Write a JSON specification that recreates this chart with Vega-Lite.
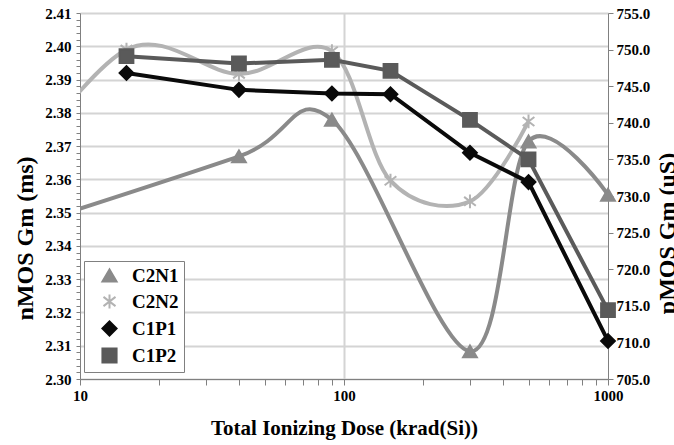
{
  "$schema": "https://vega.github.io/schema/vega-lite/v6.json",
  "width": 528,
  "height": 366,
  "autosize": {"type": "none"},
  "padding": {"left": 80, "top": 13, "right": 66, "bottom": 66},
  "background": "white",
  "config": {
    "view": {"stroke": null},
    "font": "Liberation Serif",
    "axis": {
      "labelFont": "Liberation Serif", "labelFontWeight": "bold", "labelFontSize": 15, "labelColor": "black",
      "titleFont": "Liberation Serif", "titleFontWeight": "bold", "titleFontSize": 24, "titleColor": "black",
      "domainColor": "#808080", "tickColor": "#808080", "gridColor": "#d4d4d4", "gridWidth": 2,
      "labelOverlap": false, "labelBound": false, "labelFlush": false
    }
  },
  "datasets": {
    "nmos": [
      {"series": "C2N1", "dose": 5, "gm": 2.3435},
      {"series": "C2N1", "dose": 40, "gm": 2.3669},
      {"series": "C2N1", "dose": 90, "gm": 2.3779},
      {"series": "C2N1", "dose": 300, "gm": 2.3083},
      {"series": "C2N1", "dose": 500, "gm": 2.3714},
      {"series": "C2N1", "dose": 1000, "gm": 2.3554},
      {"series": "C2N2", "dose": 5, "gm": 2.356},
      {"series": "C2N2", "dose": 15, "gm": 2.399},
      {"series": "C2N2", "dose": 40, "gm": 2.3917},
      {"series": "C2N2", "dose": 90, "gm": 2.3985},
      {"series": "C2N2", "dose": 150, "gm": 2.3596},
      {"series": "C2N2", "dose": 300, "gm": 2.3534},
      {"series": "C2N2", "dose": 500, "gm": 2.3774}
    ],
    "pmos": [
      {"series": "C1P1", "dose": 15, "gm": 746.8},
      {"series": "C1P1", "dose": 40, "gm": 744.5},
      {"series": "C1P1", "dose": 90, "gm": 744.0},
      {"series": "C1P1", "dose": 150, "gm": 743.9},
      {"series": "C1P1", "dose": 300, "gm": 735.9},
      {"series": "C1P1", "dose": 500, "gm": 731.9},
      {"series": "C1P1", "dose": 1000, "gm": 710.2},
      {"series": "C1P2", "dose": 15, "gm": 749.1},
      {"series": "C1P2", "dose": 40, "gm": 748.1},
      {"series": "C1P2", "dose": 90, "gm": 748.6},
      {"series": "C1P2", "dose": 150, "gm": 747.1},
      {"series": "C1P2", "dose": 300, "gm": 740.4},
      {"series": "C1P2", "dose": 500, "gm": 735.0},
      {"series": "C1P2", "dose": 1000, "gm": 714.4}
    ]
  },
  "layer": [
    {
      "data": {"name": "nmos"},
      "layer": [
        {
          "mark": {"type": "line", "interpolate": "cardinal", "clip": true, "strokeWidth": 4},
          "encoding": {
            "x": {
              "field": "dose", "type": "quantitative",
              "scale": {"type": "log", "domain": [10, 1000]},
              "axis": {
                "title": "Total Ionizing Dose (krad(Si))",
                "titleFontSize": 21,
                "values": [10, 20, 30, 40, 50, 60, 70, 80, 90, 100, 200, 300, 400, 500, 600, 700, 800, 900, 1000],
                "tickCount": 100,
                "labelExpr": "(datum.value == 10 || datum.value == 100 || datum.value == 1000) ? format(datum.value, 'd') : ''",
                "labelOverlap": false,
                "tickSize": 6,
                "grid": true,
                "gridOpacity": {"condition": {"test": "datum.value == 100", "value": 1}, "value": 0},
                "labelPadding": 3,
                "titlePadding": 14
              }
            },
            "y": {
              "field": "gm", "type": "quantitative",
              "scale": {"domain": [2.30, 2.41], "zero": false, "nice": false},
              "axis": {
                "title": "nMOS Gm (ms)",
                "values": [2.300, 2.302, 2.304, 2.306, 2.308, 2.310, 2.312, 2.314, 2.316, 2.318, 2.320, 2.322, 2.324, 2.326, 2.328, 2.330, 2.332, 2.334, 2.336, 2.338, 2.340, 2.342, 2.344, 2.346, 2.348, 2.350, 2.352, 2.354, 2.356, 2.358, 2.360, 2.362, 2.364, 2.366, 2.368, 2.370, 2.372, 2.374, 2.376, 2.378, 2.380, 2.382, 2.384, 2.386, 2.388, 2.390, 2.392, 2.394, 2.396, 2.398, 2.400, 2.402, 2.404, 2.406, 2.408, 2.410],
                "tickCount": 100,
                "labelExpr": "abs(datum.value * 100 - round(datum.value * 100)) < 0.05 ? format(datum.value, '.2f') : ''",
                "labelOverlap": false,
                "tickSize": 4,
                "grid": true,
                "gridOpacity": {"condition": {"test": "abs(datum.value * 100 - round(datum.value * 100)) < 0.05", "value": 1}, "value": 0},
                "labelPadding": 5,
                "titlePadding": 7,
                "titleY": 225
              }
            },
            "color": {
              "field": "series", "type": "nominal",
              "scale": {"domain": ["C2N1", "C2N2", "C1P1", "C1P2"], "range": ["#8a8a8a", "#b3b3b3", "#0a0a0a", "#5a5a5a"]},
              "legend": {
                "title": null,
                "orient": "none",
                "legendX": 4,
                "legendY": 248,
                "direction": "vertical",
                "fillColor": "white",
                "strokeColor": "#808080",
                "padding": 5,
                "labelFont": "Liberation Serif",
                "labelFontWeight": "bold",
                "labelFontSize": 19,
                "labelColor": "black",
                "symbolSize": 200,
                "symbolStrokeWidth": 2,
                "symbolOpacity": 1,
                "symbolOffset": 11,
                "rowPadding": 4,
                "labelOffset": 13
              }
            }
          }
        },
        {
          "transform": [{"filter": "datum.dose >= 10"}],
          "mark": {"type": "point", "filled": true, "size": 190, "strokeWidth": 2, "opacity": 1},
          "encoding": {
            "x": {"field": "dose", "type": "quantitative"},
            "y": {"field": "gm", "type": "quantitative"},
            "color": {"field": "series", "type": "nominal"},
            "stroke": {"field": "series", "type": "nominal", "scale": {"domain": ["C2N1", "C2N2", "C1P1", "C1P2"], "range": ["#8a8a8a", "#b3b3b3", "#0a0a0a", "#5a5a5a"]}, "legend": null},
            "shape": {"field": "series", "type": "nominal", "scale": {"domain": ["C2N1", "C2N2", "C1P1", "C1P2"], "range": ["triangle-up", "M0,-1V1M-0.85,-0.65L0.85,0.65M-0.85,0.65L0.85,-0.65", "diamond", "square"]}}
          }
        }
      ]
    },
    {
      "data": {"name": "pmos"},
      "layer": [
        {
          "mark": {"type": "line", "interpolate": "linear", "clip": true, "strokeWidth": 4},
          "encoding": {
            "x": {"field": "dose", "type": "quantitative"},
            "y": {
              "field": "gm", "type": "quantitative",
              "scale": {"domain": [705, 755], "zero": false, "nice": false},
              "axis": {
                "title": "pMOS Gm (uS)",
                "orient": "right",
                "values": [705, 710, 715, 720, 725, 730, 735, 740, 745, 750, 755],
                "tickCount": 100,
                "labelOverlap": false,
                "tickSize": 5,
                "grid": false,
                "labelPadding": 3,
                "titlePadding": 6,
                "titleAngle": 270,
                "titleBaseline": "top",
                "titleY": 220
              }
            },
            "color": {"field": "series", "type": "nominal"}
          }
        },
        {
          "mark": {"type": "point", "filled": true, "size": 190, "strokeWidth": 2, "opacity": 1},
          "encoding": {
            "x": {"field": "dose", "type": "quantitative"},
            "y": {"field": "gm", "type": "quantitative"},
            "color": {"field": "series", "type": "nominal"},
            "stroke": {"field": "series", "type": "nominal", "legend": null},
            "shape": {"field": "series", "type": "nominal"}
          }
        }
      ]
    }
  ],
  "resolve": {"scale": {"y": "independent"}}
}
